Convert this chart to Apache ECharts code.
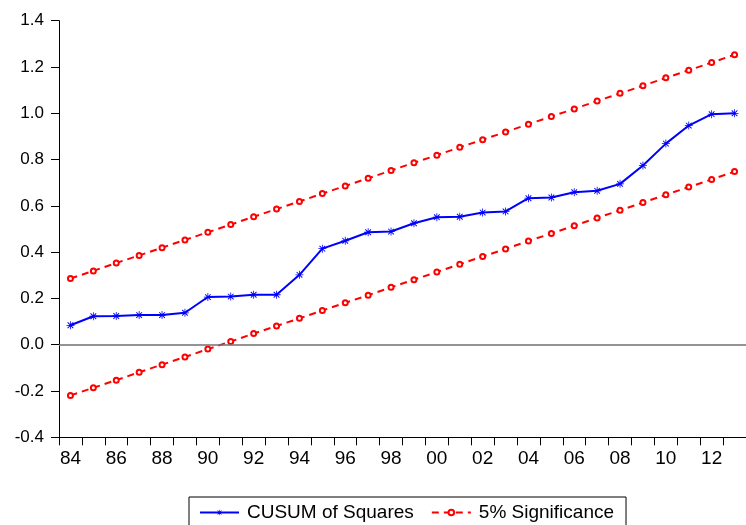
<!DOCTYPE html>
<html>
<head>
<meta charset="utf-8">
<script src="https://cdn.jsdelivr.net/npm/echarts@6/dist/echarts.min.js"></script>
<style>
  html, body { margin: 0; padding: 0; background: #fff; }
  #chart { width: 746px; height: 525px; }
</style>
</head>
<body>
<div id="chart"></div>
<script>
var years = ['84', '85', '86', '87', '88', '89', '90', '91', '92', '93',
  '94', '95', '96', '97', '98', '99', '00', '01', '02', '03',
  '04', '05', '06', '07', '08', '09', '10', '11', '12', '13'];

var cusumSq = [0.084, 0.123, 0.124, 0.128, 0.128, 0.138, 0.206, 0.208, 0.216, 0.216,
  0.302, 0.415, 0.449, 0.486, 0.489, 0.525, 0.551, 0.553, 0.571, 0.576,
  0.633, 0.636, 0.659, 0.665, 0.695, 0.774, 0.869, 0.947, 0.996, 1.0];

var upper = [0.286, 0.319, 0.353, 0.386, 0.419, 0.453, 0.486, 0.519, 0.553, 0.586,
  0.619, 0.653, 0.686, 0.719, 0.753, 0.786, 0.819, 0.853, 0.886, 0.919,
  0.953, 0.986, 1.019, 1.053, 1.086, 1.119, 1.153, 1.186, 1.219, 1.253];

var lower = [-0.219, -0.186, -0.153, -0.119, -0.086, -0.053, -0.019, 0.014, 0.048, 0.081,
  0.114, 0.148, 0.181, 0.214, 0.248, 0.281, 0.314, 0.348, 0.381, 0.414,
  0.448, 0.481, 0.514, 0.548, 0.581, 0.614, 0.648, 0.681, 0.714, 0.748];

// asterisk marker like the eviews one
var star = 'path://M-1,-10L1,-10L1,10L-1,10Z M-10,-1L10,-1L10,1L-10,1Z' +
  ' M-6.22,-7.92L7.92,6.22L6.22,7.92L-7.92,-6.22Z' +
  ' M-7.92,6.22L6.22,-7.92L7.92,-6.22L-6.22,7.92Z';

var chartDom = document.getElementById('chart');
var myChart = echarts.init(chartDom);
var option;

var redLine = {
  name: '5% Significance',
  type: 'line',
  symbol: 'emptyCircle',
  symbolSize: 5,
  showAllSymbol: true,
  itemStyle: { color: '#ff0000', borderWidth: 1 },
  lineStyle: { color: '#ff0000', width: 2, type: [7, 5] },
  z: 2
};

option = {
  animation: false,
  textStyle: { fontFamily: 'Liberation Sans, Arial, sans-serif' },
  grid: {
    left: 59,
    top: 20.7,
    width: 696,
    bottom: 87.7
  },
  legend: {
    left: 189,
    top: 497,
    padding: [6, 12, 8, 10],
    borderColor: '#000',
    borderWidth: 1,
    borderRadius: 0,
    itemWidth: 39,
    itemHeight: 7,
    itemGap: 17,
    textStyle: { fontSize: 19, color: '#000', padding: [0, 0, 0, 3] },
    data: ['CUSUM of Squares', '5% Significance']
  },
  xAxis: {
    type: 'category',
    data: years,
    boundaryGap: true,
    axisLine: { onZero: false, lineStyle: { color: '#000', width: 1 } },
    axisTick: { show: true, length: 8, interval: 0, lineStyle: { color: '#000' } },
    axisLabel: {
      interval: 1,
      margin: 12,
      fontSize: 19,
      color: '#000'
    },
    splitLine: { show: false }
  },
  yAxis: {
    type: 'value',
    min: -0.4,
    max: 1.4,
    interval: 0.2,
    axisLine: { show: true, lineStyle: { color: '#000', width: 1 } },
    axisTick: { show: true, length: 8, lineStyle: { color: '#000' } },
    axisLabel: {
      margin: 15,
      fontSize: 17,
      color: '#000',
      formatter: function (v) { return v.toFixed(1); }
    },
    splitLine: { show: false }
  },
  series: [
    {
      name: 'CUSUM of Squares',
      type: 'line',
      data: cusumSq,
      symbol: star,
      symbolSize: 8,
      showAllSymbol: true,
      itemStyle: { color: '#0000ff' },
      lineStyle: { color: '#0000ff', width: 2 },
      z: 3,
      markLine: {
        silent: true,
        symbol: 'none',
        label: { show: false },
        lineStyle: { color: '#707070', width: 1.5, type: 'solid' },
        data: [{ yAxis: 0 }]
      }
    },
    Object.assign({ data: upper }, redLine),
    Object.assign({ data: lower }, redLine)
  ]
};

option && myChart.setOption(option);
</script>
</body>
</html>
